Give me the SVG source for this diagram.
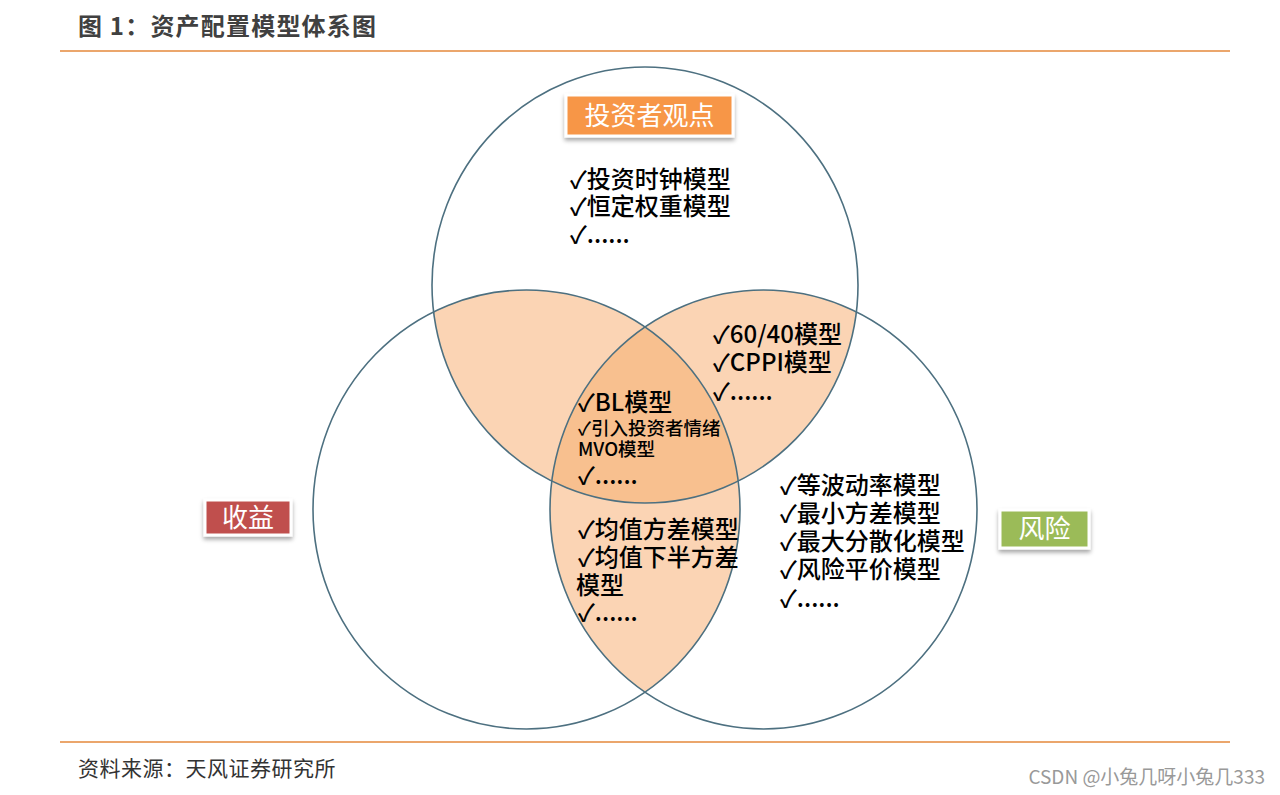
<svg xmlns="http://www.w3.org/2000/svg" width="1280" height="795" viewBox="0 0 1280 795">
<defs>
<style>
.cjk{font-family:"Microsoft YaHei","Noto Sans CJK SC","Noto Sans",sans-serif;}
.item{font-family:"Noto Sans CJK SC","Noto Sans",sans-serif;font-size:24px;font-weight:500;fill:#000;}
.small{font-size:18.5px;}
.ring{fill:none;stroke:#4D7080;stroke-width:1.6;}
.lbl{font-family:"Noto Sans CJK SC",sans-serif;font-size:26px;fill:#fff;text-anchor:middle;}
.rule{stroke:#EBA66C;stroke-width:2;}
</style>
<filter id="sh" x="-20%" y="-30%" width="140%" height="170%">
<feDropShadow dx="0" dy="3" stdDeviation="2" flood-color="#000" flood-opacity="0.35"/>
</filter>
<clipPath id="cT"><ellipse cx="645" cy="285" rx="213" ry="218"/></clipPath>
<clipPath id="cL"><ellipse cx="526.5" cy="509.5" rx="213.5" ry="219.5"/></clipPath>
<clipPath id="cR"><ellipse cx="763.5" cy="509.5" rx="213.5" ry="219.5"/></clipPath>
</defs>
<rect width="1280" height="795" fill="#fff"/>

<g id="header">
<text x="78" y="35" class="cjk" font-size="24" font-weight="bold" fill="#404040" letter-spacing="1.2">图 1：资产配置模型体系图</text>
<line x1="60" y1="51" x2="1230" y2="51" class="rule"/>
</g>

<g id="overlaps">
<g clip-path="url(#cT)"><ellipse cx="526.5" cy="509.5" rx="213.5" ry="219.5" fill="#FBD4B4"/></g>
<g clip-path="url(#cT)"><ellipse cx="763.5" cy="509.5" rx="213.5" ry="219.5" fill="#FBD4B4"/></g>
<g clip-path="url(#cL)"><ellipse cx="763.5" cy="509.5" rx="213.5" ry="219.5" fill="#FBD4B4"/></g>
<g clip-path="url(#cT)"><g clip-path="url(#cR)"><ellipse cx="526.5" cy="509.5" rx="213.5" ry="219.5" fill="#F8C08F"/></g></g>
</g>

<g id="circle-investor"><ellipse cx="645" cy="285" rx="213" ry="218" class="ring"/></g>
<g id="circle-return"><ellipse cx="526.5" cy="509.5" rx="213.5" ry="219.5" class="ring"/></g>
<g id="circle-risk"><ellipse cx="763.5" cy="509.5" rx="213.5" ry="219.5" class="ring"/></g>

<g id="label-investor">
<rect x="566" y="95" width="167" height="41" fill="#F79646" stroke="#fff" stroke-width="3" filter="url(#sh)"/>
<text x="649.5" y="125" class="lbl">投资者观点</text>
</g>
<g id="label-return">
<rect x="205" y="500" width="86" height="35" fill="#C0504D" stroke="#fff" stroke-width="3" filter="url(#sh)"/>
<text x="248" y="527" class="lbl">收益</text>
</g>
<g id="label-risk">
<rect x="1000" y="510" width="89" height="38" fill="#9BBB59" stroke="#fff" stroke-width="3" filter="url(#sh)"/>
<text x="1044.5" y="538" class="lbl">风险</text>
</g>

<g id="list-investor" class="item">
<text x="570" y="188">✓投资时钟模型</text>
<text x="570" y="215">✓恒定权重模型</text>
<text x="570" y="243">✓......</text>
</g>

<g id="list-investor-risk" class="item">
<text x="713" y="343">✓60/40模型</text>
<text x="713" y="371">✓CPPI模型</text>
<text x="713" y="400">✓......</text>
</g>

<g id="list-center" class="item">
<text x="578" y="411">✓BL模型</text>
<text x="578" y="435" class="small">✓引入投资者情绪</text>
<text x="578" y="456" class="small">MVO模型</text>
<text x="578" y="484">✓......</text>
</g>

<g id="list-return-risk" class="item">
<text x="578" y="538">✓均值方差模型</text>
<text x="578" y="566">✓均值下半方差</text>
<text x="576" y="594">模型</text>
<text x="578" y="621">✓......</text>
</g>

<g id="list-risk" class="item">
<text x="780" y="494">✓等波动率模型</text>
<text x="780" y="522">✓最小方差模型</text>
<text x="780" y="550">✓最大分散化模型</text>
<text x="780" y="578">✓风险平价模型</text>
<text x="780" y="607">✓......</text>
</g>

<g id="footer">
<line x1="60" y1="742" x2="1230" y2="742" class="rule"/>
<text x="78" y="776" class="cjk" font-size="21" fill="#333" letter-spacing="0.5">资料来源：天风证券研究所</text>
<text x="1265" y="784" class="cjk" font-size="19" fill="#999" text-anchor="end">CSDN @小兔几呀小兔几333</text>
</g>
</svg>
